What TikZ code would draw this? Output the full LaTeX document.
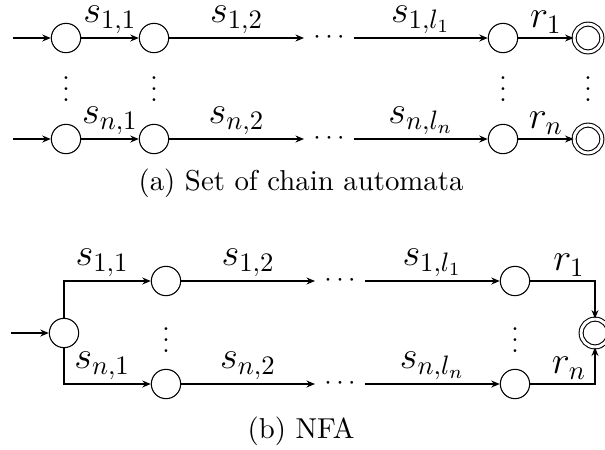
\documentclass[tikz,border=0pt]{standalone}
\usetikzlibrary{arrows.meta}
\begin{document}
\begin{tikzpicture}[x=0.375pt,y=-0.375pt,
  >={Stealth[length=3.2pt,width=2.6pt]},
  state/.style={circle,draw,minimum size=11pt,inner sep=0pt},
  accept/.style={circle,draw,double,double distance=1.1pt,minimum size=10.4pt,inner sep=0pt},
  lab/.style={above,inner sep=1.5pt,font=\fontsize{14}{16}\selectfont},
  captxt/.style={font=\fontsize{10.8}{12}\selectfont},
  conn/.style={->,line width=0.45pt}]
\useasboundingbox (0,0) rectangle (605,449);
% (a) chain automata
\coordinate (ia) at (13,38);
\coordinate (ib) at (13,139);
\node[state] (a1) at (66,38) {};
\node[state] (a2) at (154,38) {};
\node (ad) at (329,38) {$\cdots$};
\node[state] (al) at (503,38) {};
\node[accept] (af) at (588,38) {};
\node[state] (b1) at (66,139) {};
\node[state] (b2) at (154,139) {};
\node (bd) at (329,139) {$\cdots$};
\node[state] (bl) at (503,139) {};
\node[accept] (bf) at (588,139) {};
\draw[conn] (ia) -- (a1);
\draw[conn] (a1) -- node[lab]{$s_{1,1}$} (a2);
\draw[conn] (a2) -- node[lab]{$s_{1,2}$} (ad);
\draw[conn] (ad) -- node[lab]{$s_{1,l_1}$} (al);
\draw[conn] (al) -- node[lab]{$r_1$} (af);
\draw[conn] (ib) -- (b1);
\draw[conn] (b1) -- node[lab]{$s_{n,1}$} (b2);
\draw[conn] (b2) -- node[lab]{$s_{n,2}$} (bd);
\draw[conn] (bd) -- node[lab]{$s_{n,l_n}$} (bl);
\draw[conn] (bl) -- node[lab]{$r_n$} (bf);
\node (v1) at (66,81) {$\vdots$};
\node (v2) at (154,81) {$\vdots$};
\node (v3) at (503,81) {$\vdots$};
\node (v4) at (588,81) {$\vdots$};
\node[captxt] (capa) at (301,183) {(a) Set of chain automata};
% (b) NFA
\coordinate (ic) at (11,333);
\node[state] (c0) at (64,333) {};
\node[state] (c1) at (166,281) {};
\node (cd) at (340,281) {$\cdots$};
\node[state] (cl) at (515,281) {};
\node[state] (d1) at (166,384) {};
\node (dd) at (340,384) {$\cdots$};
\node[state] (dl) at (515,384) {};
\node[accept] (cf) at (595,333) {};
\draw[conn] (ic) -- (c0);
\draw[conn] (c0.north) |- node[lab,pos=0.72]{$s_{1,1}$} (c1);
\draw[conn] (c0.south) |- node[lab,pos=0.72]{$s_{n,1}$} (d1);
\draw[conn] (c1) -- node[lab]{$s_{1,2}$} (cd);
\draw[conn] (cd) -- node[lab]{$s_{1,l_1}$} (cl);
\draw[conn] (d1) -- node[lab]{$s_{n,2}$} (dd);
\draw[conn] (dd) -- node[lab]{$s_{n,l_n}$} (dl);
\draw[conn] (cl) -| node[lab,pos=0.3]{$r_1$} (cf.north);
\draw[conn] (dl) -| node[lab,pos=0.3]{$r_n$} (cf.south);
\node (w1) at (166,332) {$\vdots$};
\node (w2) at (515,332) {$\vdots$};
\node[captxt] (capb) at (301,431) {(b) NFA};
\end{tikzpicture}
\end{document}
